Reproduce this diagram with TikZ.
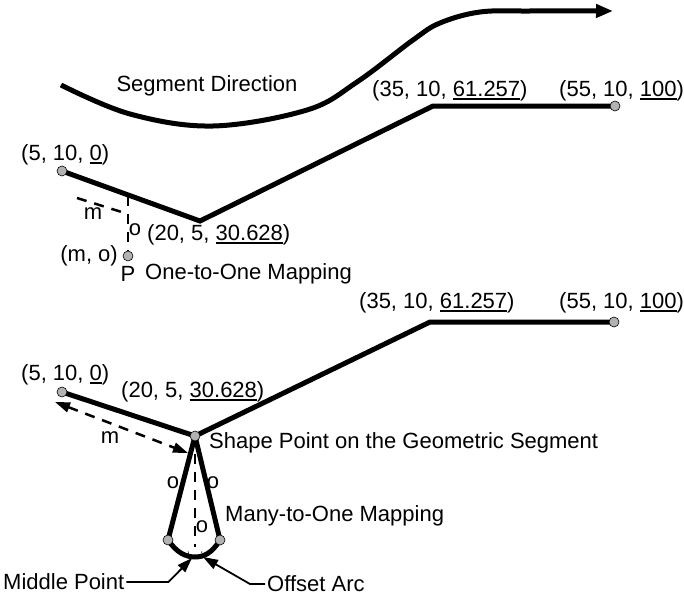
\documentclass[tikz,border=0pt]{standalone}
\usepackage{fontspec}
\setmainfont{Liberation Sans}
\usetikzlibrary{arrows.meta,calc}
\newcommand\uln[1]{\setbox0\hbox{#1}\rlap{\rule[-3pt]{\wd0}{1.4pt}}\box0}

\begin{document}
\begin{tikzpicture}[x=1pt,y=-1pt,>={Triangle[length=15pt,width=10pt]},
    seg/.style={line width=5pt,line join=miter},
    measure/.style={line width=2.5pt,dash pattern=on 10pt off 8pt},
    callout/.style={line width=1.8pt,->},
    pt/.style={circle,draw,fill=gray!60,line width=0.6pt,inner sep=0pt,minimum size=10pt},
    lbl/.style={inner sep=0pt,font=\fontsize{22}{25}\selectfont}]
  \useasboundingbox (0,0) rectangle (684,599);
  \draw[line width=5pt,-{Triangle[length=17pt,width=13pt]}] plot[smooth,tension=0.6]
    coordinates {(61,85) (130,114) (213,126) (307,110) (357,82) (413,40) (440,23) (480,12) (530,11) (613,11)};
  \node[lbl] (dir) at (207,86) {Segment Direction};

  \coordinate (a1) at (62,171);
  \coordinate (b1) at (200,221);
  \coordinate (c1) at (433,106);
  \coordinate (d1) at (615,106);
  \coordinate (f1) at (128,196);
  \coordinate (m1s) at (77,198);
  \coordinate (m1e) at (128,214);
  \draw[seg] (a1) -- (b1) -- (c1) -- (d1);
  \node[pt] (pa1) at (a1) {};
  \node[pt] (pd1) at (d1) {};
  \node[pt] (pP) at (128,256) {};
  \draw[measure] (f1) -- (pP);
  \draw[measure] (m1s) -- (m1e);
  \node[lbl,anchor=west] (ta1) at (21,155) {(5, 10, \uln{0})};
  \node[lbl,anchor=west] (tb1) at (147,235) {(20, 5, \uln{30.628})};
  \node[lbl,anchor=west] (tc1) at (372,91) {(35, 10, \uln{61.257})};
  \node[lbl,anchor=west] (td1) at (559,91) {(55, 10, \uln{100})};
  \node[lbl] (tm1) at (93,214) {m};
  \node[lbl] (to1) at (135,230) {o};
  \node[lbl,anchor=east] (tmo) at (118,256) {(m, o)};
  \node[lbl] (tP) at (128,274) {P};
  \node[lbl,anchor=west] (tone) at (145,274) {One-to-One Mapping};

  \coordinate (a2) at (62,392);
  \coordinate (b2) at (195,436);
  \coordinate (c2) at (430,322);
  \coordinate (d2) at (614,322);
  \coordinate (l2) at (168,540);
  \coordinate (r2) at (220,540);
  \coordinate (mid) at (195,557);
  \coordinate (o2) at (195,547);
  \coordinate (m2s) at (55,402);
  \coordinate (m2e) at (188,453);
  \coordinate (midtip) at (192,558);
  \coordinate (arctip) at (203,557);
  \draw[seg] (a2) -- (b2) -- (c2) -- (d2);
  \draw[seg,line join=round] (l2) -- (b2) -- (r2);
  \draw[seg,line join=round] (l2) .. controls (177,553) and (186,557) .. (mid)
    .. controls (204,557) and (212,553) .. (r2);
  \draw[measure] (b2) -- (o2);
  \draw[line width=0.5pt,densely dashed] (188,551) arc[start angle=180,end angle=0,radius=7];
  \draw[measure,<->] (m2s) -- (m2e);
  \node[pt] (pa2) at (a2) {};
  \node[pt] (pb2) at (b2) {};
  \node[pt] (pd2) at (d2) {};
  \node[pt] (pl2) at (l2) {};
  \node[pt] (pr2) at (r2) {};
  \node[lbl,anchor=west] (ta2) at (21,375) {(5, 10, \uln{0})};
  \node[lbl,anchor=west] (tb2) at (121,392) {(20, 5, \uln{30.628})};
  \node[lbl,anchor=west] (tc2) at (359,303) {(35, 10, \uln{61.257})};
  \node[lbl,anchor=west] (td2) at (559,303) {(55, 10, \uln{100})};
  \node[lbl] (tm2) at (110,438) {m};
  \node[lbl,anchor=west] (tshape) at (209,443) {Shape Point on the Geometric Segment};
  \node[lbl] (to2l) at (173,483) {o};
  \node[lbl] (to2r) at (213,483) {o};
  \node[lbl] (to2m) at (202,527) {o};
  \node[lbl,anchor=west] (tmany) at (225,516) {Many-to-One Mapping};
  \node[lbl,anchor=west] (tmid) at (3,582) {Middle Point};
  \node[lbl,anchor=west] (tarc) at (267,584) {Offset Arc};
  \draw[callout] (tmid.east) ++(2,0) -- ++(42,0) -- (midtip);
  \draw[callout] (tarc.west) ++(-2,0) -- ++(-15,0) -- (arctip);
\end{tikzpicture}
\end{document}
